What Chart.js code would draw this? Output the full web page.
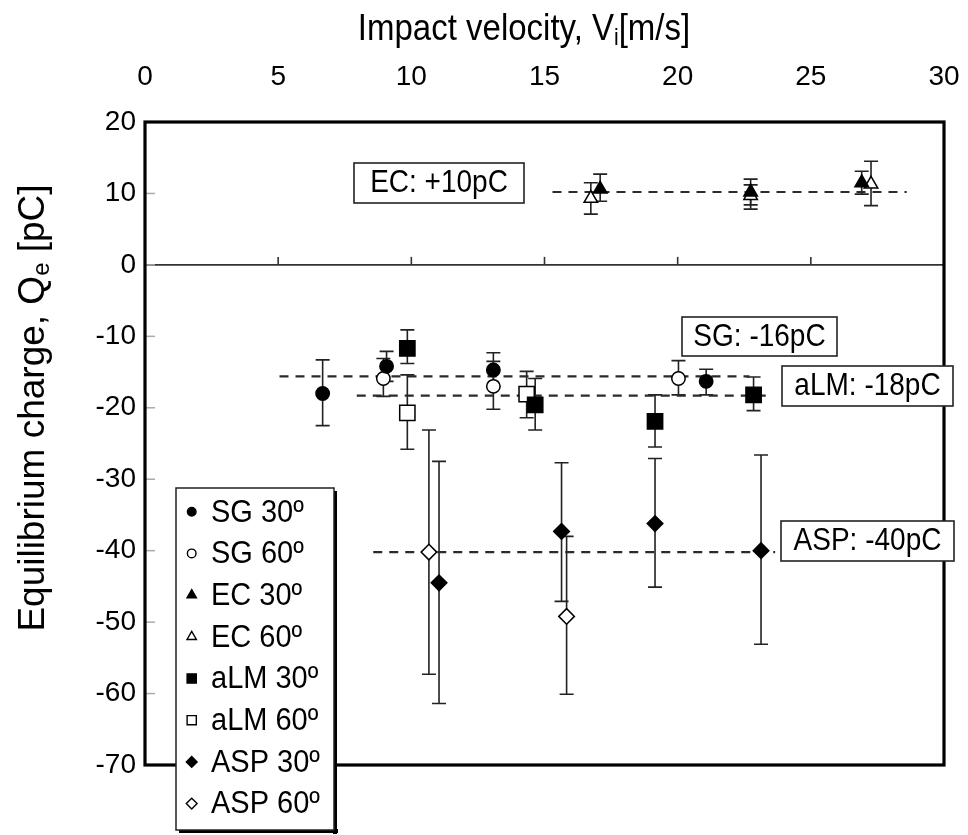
<!DOCTYPE html>
<html><head><meta charset="utf-8">
<script src="https://cdn.jsdelivr.net/npm/chart.js@4.4.1/dist/chart.umd.min.js"></script>
<style>html,body{margin:0;padding:0;background:#fff;}#wrap{width:968px;height:835px;}</style>
</head><body><div id="wrap"><canvas id="c" width="968" height="835"></canvas></div>
<script>
// ---- data ----
const xTickStep = 5, xMin = 0, xMax = 30;
const yTickStep = 10, yMin = -70, yMax = 20;

const seriesNames = ['SG 30º','SG 60º','EC 30º','EC 60º','aLM 30º','aLM 60º','ASP 30º','ASP 60º'];

const sg30X  = [6.67, 9.07, 13.08, 21.07];
const sg30Y  = [-18.0, -14.2, -14.7, -16.3];
const sg30Lo = [-22.5, -16.3, -17.0, -18.2];
const sg30Hi = [-13.3, -12.1, -12.3, -14.6];

const sg60X  = [8.95, 13.08, 20.03];
const sg60Y  = [-15.9, -17.0, -15.9];
const sg60Lo = [-18.4, -20.2, -18.2];
const sg60Hi = [-13.1, -13.5, -13.4];

const ec30X  = [17.09, 22.74, 26.91];
const ec30Y  = [10.6, 10.2, 11.5];
const ec30Lo = [8.9, 8.4, 9.9];
const ec30Hi = [12.7, 11.2, 13.1];

const ec60X  = [16.74, 22.74, 27.26];
const ec60Y  = [9.3, 9.7, 11.3];
const ec60Lo = [7.1, 7.8, 8.3];
const ec60Hi = [11.5, 12.0, 14.5];

const alm30X  = [9.85, 14.65, 19.15, 22.85];
const alm30Y  = [-11.7, -19.6, -21.9, -18.2];
const alm30Lo = [-13.8, -23.1, -25.5, -20.4];
const alm30Hi = [-9.1, -15.9, -18.2, -15.7];

const alm60X  = [9.85, 14.33];
const alm60Y  = [-20.7, -18.1];
const alm60Lo = [-25.8, -21.4];
const alm60Hi = [-15.4, -14.9];

const asp30X  = [11.04, 15.64, 19.15, 23.13];
const asp30Y  = [-44.5, -37.3, -36.2, -40.0];
const asp30Lo = [-61.4, -47.1, -45.1, -53.1];
const asp30Hi = [-27.5, -27.7, -27.1, -26.6];

const asp60X  = [10.66, 15.83];
const asp60Y  = [-40.2, -49.2];
const asp60Lo = [-57.3, -60.1];
const asp60Hi = [-23.1, -38.0];

// dashed mean lines
const refLabels = ['EC: +10pC', 'SG: -16pC', 'aLM: -18pC', 'ASP: -40pC'];
const refY  = [10.2, -15.6, -18.3, -40.2];
const refX0 = [15.3, 5.05, 7.95, 8.57];
const refX1 = [28.6, 22.7, 23.4, 23.66];

// ---- styling ----
const F = '"Liberation Sans", Arial, Helvetica, sans-serif';
const styles = [
  {ps:'circle',  fill:true,  r:6.7, lr:4.3},
  {ps:'circle',  fill:false, r:6.7, lr:4.3},
  {ps:'triangle',fill:true,  r:7.8, lr:5.4},
  {ps:'triangle',fill:false, r:7.8, lr:5.4},
  {ps:'rect',    fill:true,  r:10.8,lr:6.5},
  {ps:'rect',    fill:false, r:10.8,lr:6.5},
  {ps:'rectRot', fill:true,  r:7.8, lr:5.4},
  {ps:'rectRot', fill:false, r:7.8, lr:5.4}
];
const seriesX  = [sg30X, sg60X, ec30X, ec60X, alm30X, alm60X, asp30X, asp60X];
const seriesY  = [sg30Y, sg60Y, ec30Y, ec60Y, alm30Y, alm60Y, asp30Y, asp60Y];
const seriesLo = [sg30Lo, sg60Lo, ec30Lo, ec60Lo, alm30Lo, alm60Lo, asp30Lo, asp60Lo];
const seriesHi = [sg30Hi, sg60Hi, ec30Hi, ec60Hi, alm30Hi, alm60Hi, asp30Hi, asp60Hi];

const datasets = [];
seriesNames.forEach((name, k) => {
  const st = styles[k];
  datasets.push({
    type: 'scatter', label: name,
    data: seriesX[k].map((v, i) => ({x: v, y: seriesY[k][i], lo: seriesLo[k][i], hi: seriesHi[k][i]})),
    pointStyle: st.ps, pointRadius: st.r, pointHoverRadius: st.r,
    backgroundColor: st.fill ? '#000' : '#fff', borderColor: '#000',
    pointBorderWidth: 1.5, showLine: false, order: 1
  });
});
refLabels.forEach((lab, k) => {
  datasets.push({
    type: 'line', label: lab, isRef: true,
    data: [{x: refX0[k], y: refY[k]}, {x: refX1[k], y: refY[k]}],
    borderColor: '#2a2a2a', borderWidth: 2.2, borderDash: [9, 7],
    pointRadius: 0, fill: false, order: 5
  });
});

// label boxes (pixel layout)
const boxes = [
  {t: refLabels[0], x0: 354, y0: 163, x1: 524, y1: 203},
  {t: refLabels[1], x0: 682, y0: 317, x1: 837, y1: 356},
  {t: refLabels[2], x0: 782, y0: 366, x1: 953, y1: 406},
  {t: refLabels[3], x0: 781, y0: 521, x1: 954, y1: 561}
];
const VS = 1.1; // vertical stretch of annotation text, as in the reference

function marker(ctx, ps, x, y, r, fill) {
  ctx.beginPath();
  if (ps === 'circle') ctx.arc(x, y, r, 0, Math.PI * 2);
  else if (ps === 'triangle') {
    for (let i = 0; i < 3; i++) {
      const a = i * 2 * Math.PI / 3;
      const px = x + Math.sin(a) * r, py = y - Math.cos(a) * r;
      i ? ctx.lineTo(px, py) : ctx.moveTo(px, py);
    }
    ctx.closePath();
  } else if (ps === 'rect') {
    const s = r * Math.SQRT1_2; ctx.rect(x - s, y - s, 2 * s, 2 * s);
  } else {
    ctx.moveTo(x - r, y); ctx.lineTo(x, y - r); ctx.lineTo(x + r, y); ctx.lineTo(x, y + r); ctx.closePath();
  }
  ctx.fillStyle = fill ? '#000' : '#fff'; ctx.fill();
  ctx.strokeStyle = '#000'; ctx.lineWidth = 1.4; ctx.stroke();
}
function stretchedText(ctx, t, x, y) {
  ctx.save(); ctx.translate(x, y); ctx.scale(1, VS); ctx.fillText(t, 0, 0); ctx.restore();
}

const deco = {
  id: 'deco',
  beforeDatasetsDraw(chart) {
    const {ctx, chartArea: a, scales: {x, y}} = chart;
    ctx.save();
    const y0 = y.getPixelForValue(0);
    ctx.strokeStyle = '#333'; ctx.lineWidth = 1.6;
    ctx.beginPath(); ctx.moveTo(a.left, y0); ctx.lineTo(a.right, y0); ctx.stroke();
    for (let v = xMin + xTickStep; v < xMax; v += xTickStep) {
      const px = x.getPixelForValue(v);
      ctx.beginPath(); ctx.moveTo(px, y0); ctx.lineTo(px, y0 - 8); ctx.stroke();
    }
    ctx.strokeStyle = '#aaa'; ctx.lineWidth = 1.5;
    for (let v = yMin + yTickStep; v < yMax; v += yTickStep) {
      const py = y.getPixelForValue(v);
      ctx.beginPath(); ctx.moveTo(a.left, py); ctx.lineTo(a.left + 10, py); ctx.stroke();
    }
    ctx.strokeStyle = '#222'; ctx.lineWidth = 1.6;
    chart.data.datasets.forEach(ds => {
      if (ds.isRef) return;
      ds.data.forEach(p => {
        const px = x.getPixelForValue(p.x), pl = y.getPixelForValue(p.lo), ph = y.getPixelForValue(p.hi);
        ctx.beginPath();
        ctx.moveTo(px, pl); ctx.lineTo(px, ph);
        ctx.moveTo(px - 7, pl); ctx.lineTo(px + 7, pl);
        ctx.moveTo(px - 7, ph); ctx.lineTo(px + 7, ph);
        ctx.stroke();
      });
    });
    ctx.restore();
  },
  afterDraw(chart) {
    const {ctx, chartArea: a} = chart;
    ctx.save();
    ctx.strokeStyle = '#000'; ctx.lineWidth = 3.2;
    ctx.strokeRect(a.left, a.top, a.right - a.left, a.bottom - a.top);
    // label boxes
    ctx.font = '28px ' + F; ctx.textAlign = 'center'; ctx.textBaseline = 'middle';
    boxes.forEach(b => {
      ctx.fillStyle = '#fff'; ctx.fillRect(b.x0, b.y0, b.x1 - b.x0, b.y1 - b.y0);
      ctx.strokeStyle = '#222'; ctx.lineWidth = 1.6; ctx.strokeRect(b.x0, b.y0, b.x1 - b.x0, b.y1 - b.y0);
      ctx.fillStyle = '#000'; stretchedText(ctx, b.t, (b.x0 + b.x1) / 2, (b.y0 + b.y1) / 2 + 1);
    });
    // legend
    const L = {x0: 176, y0: 488, x1: 334, y1: 830};
    ctx.fillStyle = '#000';
    ctx.fillRect(L.x0 + 3, L.y1 - 1, L.x1 - L.x0 + 1, 4);
    ctx.fillRect(L.x1 - 1, L.y0 + 3, 4, L.y1 - L.y0 + 1);
    ctx.fillStyle = '#fff'; ctx.fillRect(L.x0, L.y0, L.x1 - L.x0, L.y1 - L.y0);
    ctx.strokeStyle = '#222'; ctx.lineWidth = 1.5; ctx.strokeRect(L.x0, L.y0, L.x1 - L.x0, L.y1 - L.y0);
    ctx.textAlign = 'left'; ctx.font = '29px ' + F;
    seriesNames.forEach((n, k) => {
      const yy = 511.7 + k * 41.7;
      marker(ctx, styles[k].ps, 191.7, yy, styles[k].lr, styles[k].fill);
      ctx.fillStyle = '#000'; stretchedText(ctx, n, 211, yy + 1);
    });
    // x title with subscript
    ctx.fillStyle = '#000'; ctx.textBaseline = 'alphabetic';
    const big = '33px ' + F, small = '21px ' + F;
    const p1 = 'Impact velocity, V', p2 = 'i', p3 = '[m/s]';
    ctx.font = big; const w1 = ctx.measureText(p1).width, w3 = ctx.measureText(p3).width;
    ctx.font = small; const w2 = ctx.measureText(p2).width;
    let sx = 524 - (w1 + w2 + w3) / 2; const by = 40;
    ctx.font = big; stretchedText(ctx, p1, sx, by); sx += w1;
    ctx.font = small; stretchedText(ctx, p2, sx, by + 5); sx += w2;
    ctx.font = big; stretchedText(ctx, p3, sx, by);
    // y title with subscript
    const q1 = 'Equilibrium charge, Q', q2 = 'e', q3 = ' [pC]';
    const ybig = '37px ' + F, ysmall = '24px ' + F;
    ctx.font = ybig; const v1 = ctx.measureText(q1).width, v3 = ctx.measureText(q3).width;
    ctx.font = ysmall; const v2 = ctx.measureText(q2).width;
    ctx.translate(44, 408); ctx.rotate(-Math.PI / 2);
    let tx = -(v1 + v2 + v3) / 2;
    ctx.font = ybig; ctx.fillText(q1, tx, 0); tx += v1;
    ctx.font = ysmall; ctx.fillText(q2, tx, 5); tx += v2;
    ctx.font = ybig; ctx.fillText(q3, tx, 0);
    ctx.restore();
  }
};

new Chart(document.getElementById('c'), {
  type: 'scatter',
  data: {datasets},
  plugins: [deco],
  options: {
    responsive: false, animation: false, devicePixelRatio: 1,
    layout: {padding: {left: 0, top: 0, right: 24, bottom: 70}},
    plugins: {legend: {display: false}, tooltip: {enabled: false}},
    scales: {
      x: {
        type: 'linear', position: 'top', min: xMin, max: xMax,
        ticks: {stepSize: xTickStep, color: '#000', font: {family: F, size: 28}, padding: 28, maxRotation: 0},
        grid: {display: false, drawTicks: false}, border: {display: false},
        afterFit(s) { s.height = 122; s.paddingLeft = 0; s.paddingRight = 0; }
      },
      y: {
        type: 'linear', min: yMin, max: yMax,
        ticks: {stepSize: yTickStep, color: '#000', font: {family: F, size: 28}, padding: 9},
        grid: {display: false, drawTicks: false}, border: {display: false},
        afterFit(s) { s.width = 145; s.paddingTop = 0; s.paddingBottom = 0; }
      }
    }
  }
});
</script>
</body></html>
